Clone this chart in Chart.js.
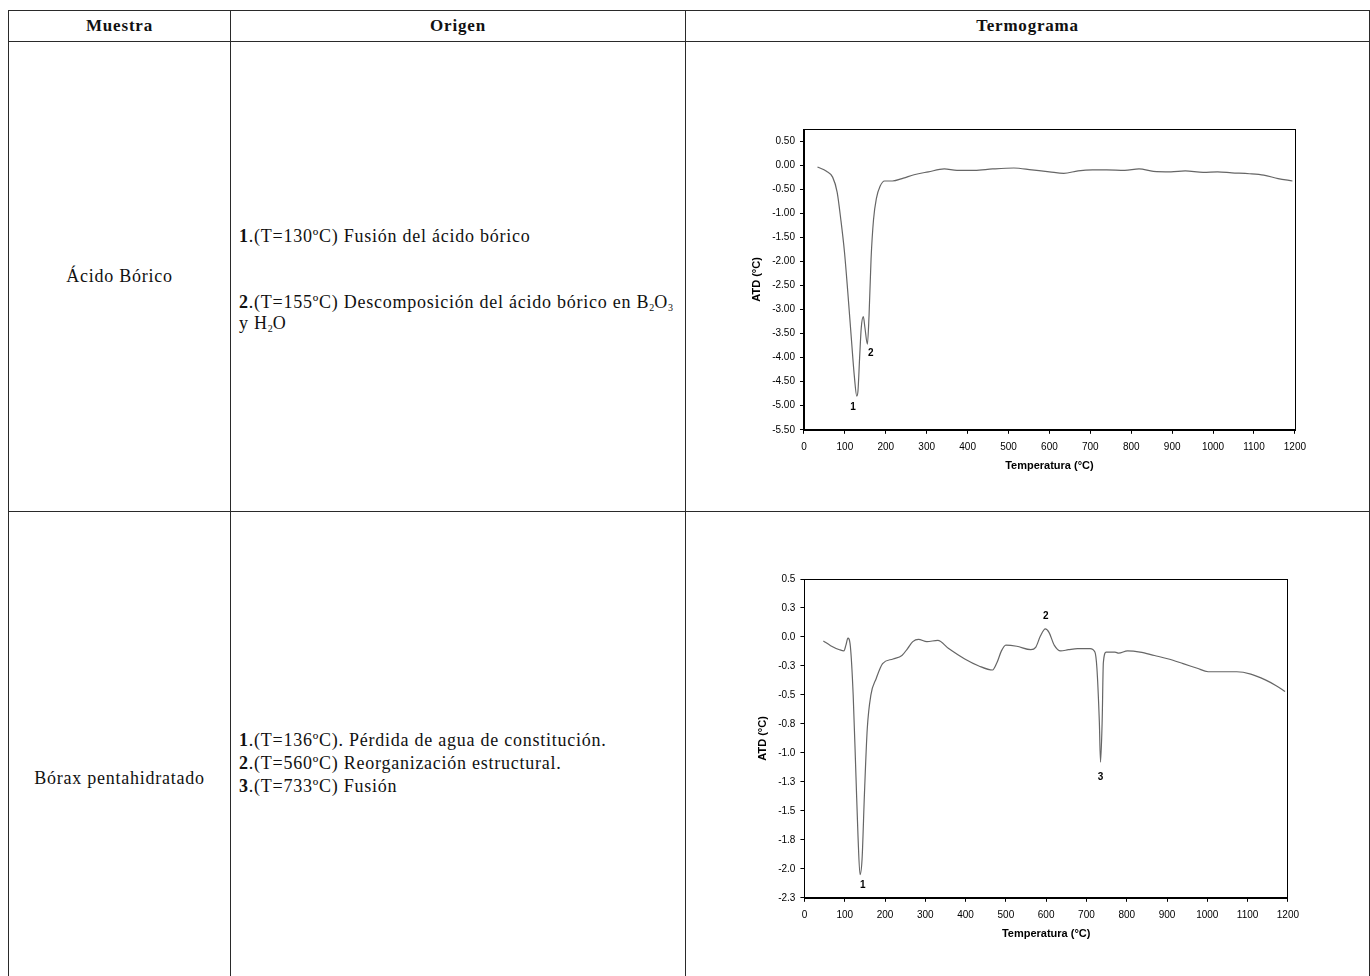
<!DOCTYPE html>
<html>
<head>
<meta charset="utf-8">
<script src="https://cdn.jsdelivr.net/npm/chart.js@4"></script>
<style>
  body { margin: 0; background: #fff; width: 1370px; height: 976px; overflow: hidden; position: relative; }
  #tbl { position: absolute; left: 8px; top: 10px; width: 1361px; border-collapse: collapse; table-layout: fixed;
         font-family: "Liberation Serif", serif; font-size: 18px; letter-spacing: 0.75px; color: #111; }
  #tbl th, #tbl td { border: 1px solid #2a2a2a; padding: 0; }
  #tbl th { height: 30px; font-weight: bold; text-align: center; font-size: 17px; letter-spacing: 0.8px; }
  .r1 td { height: 469px; }
  .r2 td { height: 533px; }
  td.m { text-align: center; vertical-align: middle; }
  td.o { vertical-align: middle; }
  td.o div { position: relative; left: 8px; }
  td.o p { margin: 0; line-height: 21px; }
  .r1 td.o div { top: 3px; }
  .r1 td.o p.first { margin-bottom: 45px; }
  .r2 td.o div { top: -15px; }
  .r2 td.o p { line-height: 23px; }
  sub { font-size: 10px; vertical-align: -3px; line-height: 0; letter-spacing: 0; }
  .box { position: absolute; }
</style>
</head>
<body>
<table id="tbl">
  <colgroup><col style="width:222px"><col style="width:455px"><col style="width:684px"></colgroup>
  <tr class="hdr"><th>Muestra</th><th>Origen</th><th>Termograma</th></tr>
  <tr class="r1">
    <td class="m">Ácido Bórico</td>
    <td class="o"><div>
      <p class="first"><b>1</b>.(T=130ºC) Fusión del ácido bórico</p>
      <p><b>2</b>.(T=155ºC) Descomposición del ácido bórico en B<sub>2</sub>O<sub>3</sub></p>
      <p>y H<sub>2</sub>O</p>
    </div></td>
    <td></td>
  </tr>
  <tr class="r2">
    <td class="m">Bórax pentahidratado</td>
    <td class="o"><div>
      <p><b>1</b>.(T=136ºC). Pérdida de agua de constitución.</p>
      <p><b>2</b>.(T=560ºC) Reorganización estructural.</p>
      <p><b>3</b>.(T=733ºC) Fusión</p>
    </div></td>
    <td></td>
  </tr>
</table>

<div class="box" style="left:745px; top:118px; width:568px; height:355px;"><canvas id="chart1"></canvas></div>
<div class="box" style="left:745px; top:568px; width:561px; height:373px;"><canvas id="chart2"></canvas></div>

<script>
// Ácido bórico termograma
const temps1 = [33, 55, 70, 81, 90, 99, 107, 116, 123, 129, 132, 136, 140, 145, 149, 155, 159, 164, 170, 177, 186, 197,
  216, 243, 269, 304, 343, 374, 417, 461, 513, 557, 600, 635, 670, 705, 740, 784, 819, 854, 897, 932, 976, 1011, 1046,
  1089, 1124, 1159, 1194];
const atd1 = [-0.04, -0.13, -0.25, -0.56, -1.13, -1.81, -2.63, -3.63, -4.38, -4.80, -4.69, -4.00, -3.38, -3.15, -3.38,
  -3.72, -3.13, -1.94, -1.13, -0.69, -0.44, -0.33, -0.33, -0.27, -0.20, -0.14, -0.08, -0.11, -0.11, -0.08, -0.06, -0.10,
  -0.14, -0.17, -0.12, -0.10, -0.10, -0.11, -0.08, -0.13, -0.14, -0.12, -0.15, -0.14, -0.16, -0.18, -0.21, -0.28, -0.33];
const yTicks1 = [-5.5, -5.0, -4.5, -4.0, -3.5, -3.0, -2.5, -2.0, -1.5, -1.0, -0.5, 0.0, 0.5];
const yLabels1 = ['-5.50', '-5.00', '-4.50', '-4.00', '-3.50', '-3.00', '-2.50', '-2.00', '-1.50', '-1.00', '-0.50', '0.00', '0.50'];
const peaks1 = [{ text: '1', t: 120, v: -5.03 }, { text: '2', t: 163, v: -3.91 }];

// Bórax pentahidratado termograma
const temps2 = [47, 65, 87, 98, 103, 108, 114, 121, 128, 133, 138, 143, 149, 156, 165, 178, 194, 220, 242, 256, 269, 283,
  304, 331, 358, 398, 433, 467, 478, 489, 500, 527, 562, 574, 586, 598, 607, 620, 636, 655, 678, 709, 721, 726, 732, 735,
  739, 742, 749, 771, 780, 802, 833, 869, 904, 940, 975, 1002, 1046, 1073, 1108, 1144, 1171, 1193];
const atd2 = [-0.035, -0.075, -0.11, -0.12, -0.07, -0.01, -0.08, -0.50, -1.21, -1.72, -2.05, -1.92, -1.35, -0.79, -0.50,
  -0.36, -0.23, -0.19, -0.16, -0.10, -0.04, -0.02, -0.04, -0.03, -0.10, -0.19, -0.25, -0.285, -0.22, -0.12, -0.07, -0.08,
  -0.11, -0.09, 0.01, 0.07, 0.04, -0.07, -0.12, -0.11, -0.10, -0.10, -0.13, -0.27, -0.73, -1.08, -0.73, -0.22, -0.13,
  -0.13, -0.14, -0.12, -0.13, -0.16, -0.19, -0.23, -0.27, -0.30, -0.30, -0.30, -0.32, -0.37, -0.42, -0.47];
const yTicks2 = [-2.25, -2.0, -1.75, -1.5, -1.25, -1.0, -0.75, -0.5, -0.25, 0.0, 0.25, 0.5];
const yLabels2 = ['-2.3', '-2.0', '-1.8', '-1.5', '-1.3', '-1.0', '-0.8', '-0.5', '-0.3', '0.0', '0.3', '0.5'];
const peaks2 = [{ text: '1', t: 145, v: -2.14 }, { text: '2', t: 599, v: 0.18 }, { text: '3', t: 735, v: -1.21 }];

const xTicks = [0, 100, 200, 300, 400, 500, 600, 700, 800, 900, 1000, 1100, 1200];
const xLabels = ['0', '100', '200', '300', '400', '500', '600', '700', '800', '900', '1000', '1100', '1200'];

const sans = "'Liberation Sans', Arial, sans-serif";

// plot frame around the chart area
const framePlugin = {
  id: 'frame',
  afterDraw(chart) {
    const a = chart.chartArea, ctx = chart.ctx;
    ctx.save();
    ctx.strokeStyle = '#000';
    ctx.lineWidth = 1;
    ctx.strokeRect(Math.round(a.left) + 0.5, Math.round(a.top) + 0.5, Math.round(a.right - a.left), Math.round(a.bottom - a.top));
    ctx.restore();
  }
};

// peak numbers next to the curve
const peakPlugin = {
  id: 'peaks',
  afterDatasetsDraw(chart, args, opts) {
    const ctx = chart.ctx;
    ctx.save();
    ctx.font = 'bold 10px ' + sans;
    ctx.fillStyle = '#000';
    ctx.textAlign = 'center';
    ctx.textBaseline = 'middle';
    opts.items.forEach(p => {
      ctx.fillText(p.text, chart.scales.x.getPixelForValue(p.t), chart.scales.y.getPixelForValue(p.v));
    });
    ctx.restore();
  }
};

function makeChart(id, temps, atd, yMin, yMax, yTicks, yLabels, peaks, pad) {
  const ctx = document.getElementById(id).getContext('2d');
  return new Chart(ctx, {
    type: 'line',
    data: {
      datasets: [{
        data: temps.map((t, i) => ({ x: t, y: atd[i] })),
        borderColor: '#666',
        borderWidth: 1.2,
        pointRadius: 0,
        cubicInterpolationMode: 'monotone',
        fill: false
      }]
    },
    options: {
      responsive: true,
      maintainAspectRatio: false,
      animation: false,
      layout: { padding: pad },
      plugins: { legend: { display: false }, tooltip: { enabled: false }, peaks: { items: peaks } },
      scales: {
        x: {
          type: 'linear', min: 0, max: 1200,
          afterBuildTicks: s => { s.ticks = xTicks.map(v => ({ value: v })); },
          ticks: { color: '#000', font: { size: 10, family: sans }, maxRotation: 0, padding: 7, callback: (v, i) => xLabels[i] },
          grid: { drawOnChartArea: false, tickLength: 4, color: '#000' },
          border: { color: '#000', width: 1 },
          title: { display: true, text: 'Temperatura (°C)', color: '#000', font: { size: 11, weight: 'bold', family: sans }, padding: { top: 0, bottom: 0 } }
        },
        y: {
          type: 'linear', min: yMin, max: yMax,
          afterBuildTicks: s => { s.ticks = yTicks.map(v => ({ value: v })); },
          ticks: { color: '#000', font: { size: 10, family: sans }, padding: 5, callback: (v, i) => yLabels[i] },
          grid: { drawOnChartArea: false, tickLength: 4, color: '#000' },
          border: { color: '#000', width: 1 },
          title: { display: true, text: 'ATD (°C)', color: '#000', font: { size: 11, weight: 'bold', family: sans }, padding: { top: 0, bottom: 4 } }
        }
      }
    },
    plugins: [framePlugin, peakPlugin]
  });
}

window.onload = () => {
  makeChart('chart1', temps1, atd1, -5.5, 0.75, yTicks1, yLabels1, peaks1, { left: 5, top: 1, right: 0, bottom: 0 });
  makeChart('chart2', temps2, atd2, -2.25, 0.5, yTicks2, yLabels2, peaks2, { left: 11, top: 7, right: 0, bottom: 0 });
};
</script>
</body>
</html>
